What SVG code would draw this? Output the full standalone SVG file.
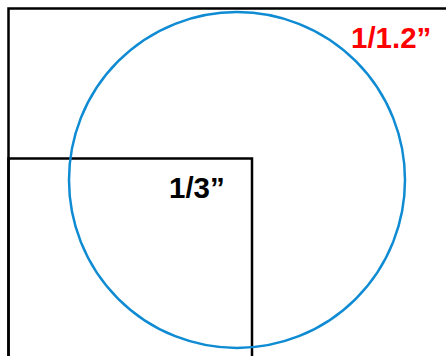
<svg xmlns="http://www.w3.org/2000/svg" width="446" height="356" viewBox="0 0 446 356">
<style>
.frame{fill:none;stroke:#000;stroke-width:2.5}
.lbl{font-family:"Liberation Sans",Arial,sans-serif;font-weight:bold;font-size:29.5px}
</style>
<rect width="446" height="356" fill="#fff"/>
<g id="outer-board"><path class="frame" d="M450 8.5 H8.5 V360"/></g>
<g id="inner-board"><path class="frame" d="M8.5 360 V158.5 H252 V360"/></g>
<g id="circle"><circle cx="237" cy="180" r="168" fill="none" stroke="#0E8BD3" stroke-width="2.5"/></g>
<g id="labels">
<text class="lbl" x="351" y="48" fill="#FF0000">1/1.2”</text>
<text class="lbl" x="169" y="198" fill="#000">1/3”</text>
</g>
</svg>
